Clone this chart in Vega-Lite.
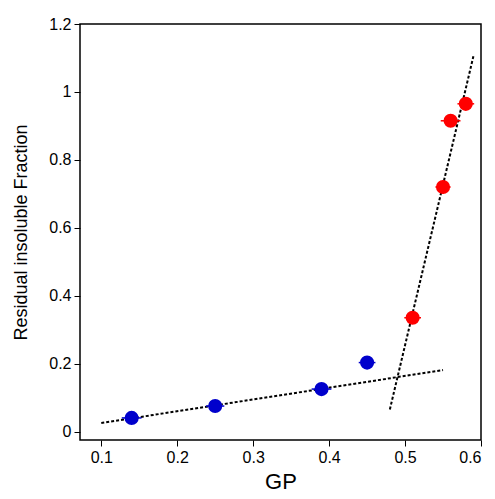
{
"$schema":"https://vega.github.io/schema/vega-lite/v6.json",
"width":401,"height":416,"autosize":{"type":"none"},
"padding":{"left":80,"top":24,"right":14,"bottom":59},
"config":{"view":{"stroke":"black","strokeWidth":1.5},"font":"Liberation Sans","axis":{"grid":false,"domain":false,"tickColor":"black","labelColor":"black","titleColor":"black","labelFontSize":16,"titleFontWeight":"normal","format":"~g"}},
"datasets":{
"pts":[
{"gp":0.14,"f":0.04,"xe":0.013,"ye":0.008,"g":"b"},
{"gp":0.25,"f":0.075,"xe":0.012,"ye":0.008,"g":"b"},
{"gp":0.39,"f":0.125,"xe":0.013,"ye":0.008,"g":"b"},
{"gp":0.45,"f":0.203,"xe":0.011,"ye":0.008,"g":"b"},
{"gp":0.51,"f":0.335,"xe":0.011,"ye":0.012,"g":"r"},
{"gp":0.55,"f":0.72,"xe":0.01,"ye":0.02,"g":"r"},
{"gp":0.56,"f":0.915,"xe":0.013,"ye":0.01,"g":"r"},
{"gp":0.58,"f":0.965,"xe":0.011,"ye":0.015,"g":"r"}],
"lines":[
{"gp":0.1,"f":0.025,"k":"a"},{"gp":0.55,"f":0.181,"k":"a"},
{"gp":0.48,"f":0.065,"k":"b"},{"gp":0.59,"f":1.105,"k":"b"}]},
"encoding":{"x":{"field":"gp","type":"quantitative","scale":{"domain":[0.072,0.6],"nice":false,"zero":false},"axis":{"values":[0.1,0.2,0.3,0.4,0.5,0.6],"title":"GP","titleFontSize":22,"tickSize":6,"labelPadding":3,"titlePadding":6}},
"y":{"field":"f","type":"quantitative","scale":{"domain":[-0.025,1.2],"nice":false,"zero":false},"axis":{"values":[0,0.2,0.4,0.6,0.8,1,1.2],"title":"Residual insoluble  Fraction","titleFontSize":18,"tickSize":6,"labelPadding":3,"titlePadding":18}}},
"layer":[
{"data":{"name":"lines"},"mark":{"type":"line","color":"black","strokeDash":[3,2],"strokeWidth":2,"clip":true},
"encoding":{"detail":{"field":"k"}}},
{"data":{"name":"pts"},"transform":[{"calculate":"datum.gp-datum.xe","as":"x1"},{"calculate":"datum.gp+datum.xe","as":"x2"}],"mark":{"type":"rule","strokeWidth":1.5},
"encoding":{"x":{"field":"x1","type":"quantitative"},"x2":{"field":"x2"},"color":{"field":"g","type":"nominal","scale":{"domain":["b","r"],"range":["#0000cc","#ff0000"]},"legend":null}}},
{"data":{"name":"pts"},"transform":[{"calculate":"datum.f-datum.ye","as":"y1"},{"calculate":"datum.f+datum.ye","as":"y2"}],"mark":{"type":"rule","strokeWidth":1.5},
"encoding":{"y":{"field":"y1","type":"quantitative"},"y2":{"field":"y2"},"color":{"field":"g","type":"nominal","legend":null}}},
{"data":{"name":"pts"},"mark":{"type":"circle","size":200,"opacity":1},
"encoding":{"color":{"field":"g","type":"nominal","legend":null}}}
]}
